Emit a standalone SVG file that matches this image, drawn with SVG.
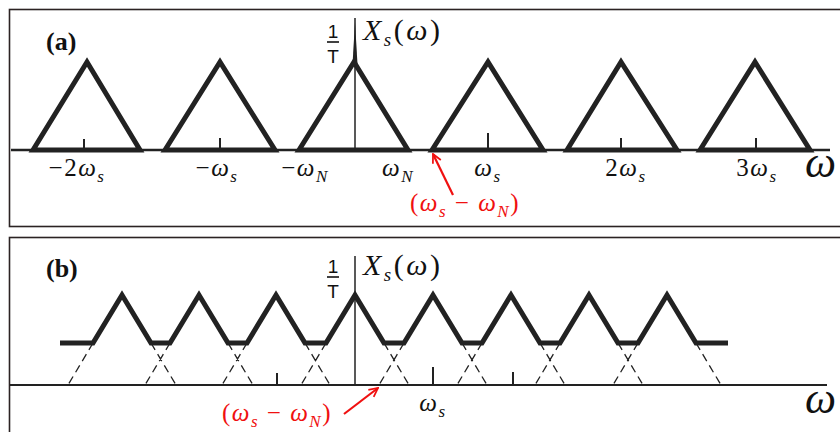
<svg xmlns="http://www.w3.org/2000/svg" width="840" height="432" viewBox="0 0 840 432">
<style>
.frame{fill:none;stroke:#2b2323;stroke-width:1.6}
.tri{fill:none;stroke:#222;stroke-width:5;stroke-linejoin:miter;stroke-miterlimit:10}
.base{stroke:#222;stroke-width:2.5;fill:none}
.axis{stroke:#222;stroke-width:1.5}
.tick{stroke:#222;stroke-width:2}
.dash{stroke:#222;stroke-width:1.3;stroke-dasharray:8,5;fill:none}
.lbl{font-family:"Liberation Serif",serif;font-size:25px;letter-spacing:1.5px;fill:#111}
.it{font-style:italic}
.sub{font-style:italic;font-size:17px}
.red{fill:#f01010}
.big{font-family:"Liberation Serif",serif;font-style:italic;font-size:44px;fill:#111}
.tag{font-family:"Liberation Serif",serif;font-weight:bold;font-size:26px;fill:#111}
.frac{font-family:"Liberation Sans",sans-serif;font-size:19px;fill:#111}
.ttl{font-family:"Liberation Serif",serif;font-size:30px;letter-spacing:2.5px;fill:#111}
.arr{stroke:#f01010;stroke-width:2.2;fill:none}
</style>
<defs>
<marker id="ah" viewBox="0 0 10 10" refX="9" refY="5" markerWidth="5" markerHeight="5" orient="auto" markerUnits="strokeWidth">
<path d="M1,1 L9,5 L1,9" fill="none" stroke="#f01010" stroke-width="1.6"/>
</marker>
</defs>

<g id="panel-a">
<rect class="frame" x="9.5" y="9.5" width="840" height="217"/>
<line class="base" x1="11" y1="150" x2="830" y2="150"/>
<g id="a-triangles">
<polygon class="tri" points="33,150 87,62 140,150"/>
<polygon class="tri" points="165,150 220,62 275,150"/>
<polygon class="tri" points="299,150 354,62 408,150"/>
<polygon class="tri" points="432,150 488,62 543,150"/>
<polygon class="tri" points="567,150 621,62 677,150"/>
<polygon class="tri" points="700,150 755,62 810,150"/>
</g>
<g id="a-ticks">
<line class="tick" x1="84" y1="139" x2="84" y2="150"/>
<line class="tick" x1="220" y1="138" x2="220" y2="150"/>
<line class="tick" x1="488" y1="133" x2="488" y2="150"/>
<line class="tick" x1="621" y1="138" x2="621" y2="150"/>
<line class="tick" x1="756" y1="138" x2="756" y2="150"/>
</g>
<line class="axis" x1="355" y1="18" x2="355" y2="150"/>
<polygon points="352.5,64 355,22 357.5,64" fill="#222"/>
<text class="tag" x="46" y="50">(a)</text>
<g id="a-frac">
<text class="frac" x="333" y="38" text-anchor="middle">1</text>
<line x1="327" y1="42" x2="339" y2="42" stroke="#111" stroke-width="1.6"/>
<text class="frac" x="333" y="63" text-anchor="middle">T</text>
</g>
<text class="ttl" x="363" y="40"><tspan class="it">X</tspan><tspan class="it" dy="6" style="font-size:19px">s</tspan><tspan dy="-6">(</tspan><tspan class="it">ω</tspan><tspan>)</tspan></text>
<g id="a-labels">
<text class="lbl" x="77" y="176" text-anchor="middle">−2<tspan class="it">ω</tspan><tspan class="sub" dy="6">s</tspan></text>
<text class="lbl" x="217" y="176" text-anchor="middle">−<tspan class="it">ω</tspan><tspan class="sub" dy="6">s</tspan></text>
<text class="lbl" x="305" y="176" text-anchor="middle">−<tspan class="it">ω</tspan><tspan class="sub" dy="6">N</tspan></text>
<text class="lbl" x="398" y="176" text-anchor="middle"><tspan class="it">ω</tspan><tspan class="sub" dy="6">N</tspan></text>
<text class="lbl" x="488" y="176" text-anchor="middle"><tspan class="it">ω</tspan><tspan class="sub" dy="6">s</tspan></text>
<text class="lbl" x="626" y="176" text-anchor="middle">2<tspan class="it">ω</tspan><tspan class="sub" dy="6">s</tspan></text>
<text class="lbl" x="757" y="176" text-anchor="middle">3<tspan class="it">ω</tspan><tspan class="sub" dy="6">s</tspan></text>
<text class="big" x="805" y="177">ω</text>
</g>
<g id="a-note">
<line class="arr" x1="453" y1="195" x2="433" y2="154" marker-end="url(#ah)"/>
<text class="lbl red" x="465" y="211" text-anchor="middle">(<tspan class="it">ω</tspan><tspan class="sub" dy="6">s</tspan><tspan dy="-6"> − </tspan><tspan class="it">ω</tspan><tspan class="sub" dy="6">N</tspan><tspan dy="-6">)</tspan></text>
</g>
</g>

<g id="panel-b">
<rect class="frame" x="9.5" y="237.5" width="840" height="210"/>
<line class="base" x1="10" y1="385" x2="827" y2="385" style="stroke-width:2"/>
<g id="b-dashed">
<path class="dash" d="M93,343 L68,385 M151,343 L176,385 M170,343 L145,385 M228,343 L253,385 M247,343 L222,385 M305,343 L330,385 M326,343 L301,385 M384,343 L409,385 M404,343 L379,385 M462,343 L487,385 M482,343 L457,385 M540,343 L565,385 M560,343 L535,385 M618,343 L643,385 M638,343 L613,385 M696,343 L721,385"/>
</g>
<path class="tri" d="M60,343 L93,343 L122,295 L151,343 L170,343 L199,295 L228,343 L247,343 L276,295 L305,343 L326,343 L355,295 L384,343 L404,343 L433,295 L462,343 L482,343 L511,295 L540,343 L560,343 L589,295 L618,343 L638,343 L667,295 L696,343 L728,343"/>
<g id="b-ticks">
<line class="tick" x1="277" y1="373" x2="277" y2="385"/>
<line class="tick" x1="433" y1="367" x2="433" y2="385"/>
<line class="tick" x1="513" y1="372" x2="513" y2="385"/>
</g>
<line class="axis" x1="355" y1="256" x2="355" y2="385"/>
<text class="tag" x="46" y="277">(b)</text>
<g id="b-frac">
<text class="frac" x="333" y="273" text-anchor="middle">1</text>
<line x1="327" y1="277" x2="339" y2="277" stroke="#111" stroke-width="1.6"/>
<text class="frac" x="333" y="298" text-anchor="middle">T</text>
</g>
<text class="ttl" x="363" y="275"><tspan class="it">X</tspan><tspan class="it" dy="6" style="font-size:19px">s</tspan><tspan dy="-6">(</tspan><tspan class="it">ω</tspan><tspan>)</tspan></text>
<text class="lbl" x="433" y="411" text-anchor="middle"><tspan class="it">ω</tspan><tspan class="sub" dy="6">s</tspan></text>
<text class="big" x="805" y="413">ω</text>
<g id="b-note">
<line class="arr" x1="344" y1="414" x2="378" y2="388" marker-end="url(#ah)"/>
<text class="lbl red" x="277" y="421" text-anchor="middle">(<tspan class="it">ω</tspan><tspan class="sub" dy="6">s</tspan><tspan dy="-6"> − </tspan><tspan class="it">ω</tspan><tspan class="sub" dy="6">N</tspan><tspan dy="-6">)</tspan></text>
</g>
</g>
</svg>
